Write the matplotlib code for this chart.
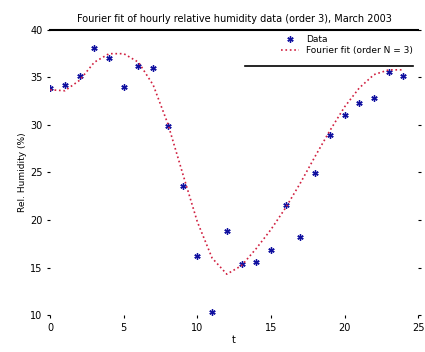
import matplotlib
matplotlib.use("Agg")
import matplotlib.pyplot as plt

hours = list(range(25))
data_vals = [33.9, 34.2, 35.2, 38.1, 37.0, 34.0, 36.2, 36.0, 29.9, 23.6, 16.2, 10.3,
             18.8, 15.4, 15.6, 16.8, 21.6, 18.2, 24.9, 28.9, 31.1, 32.3, 32.8, 35.6, 35.2]
fit_vals = [33.7, 33.6, 34.7, 36.6, 37.5, 37.5, 36.6, 34.2, 30.1, 24.9, 19.8, 16.0,
            14.3, 15.2, 17.0, 19.0, 21.3, 23.9, 26.7, 29.4, 31.9, 33.9, 35.3, 35.8, 35.8]

title = "Fourier fit of hourly relative humidity data (order 3), March 2003"
legend_labels = ["Data", "Fourier fit (order N = 3)"]

fig = plt.figure(figsize=(4.25, 3.52), dpi=100)
ax = fig.add_axes([0.118, 0.105, 0.866, 0.81])
ax.plot(hours, data_vals, linestyle="none", marker=(6, 2, 0), color="#1010a0",
        markersize=4.5, markeredgewidth=1.0, label=legend_labels[0])
ax.plot(hours, fit_vals, linestyle=":", color="#d02040", linewidth=1.2,
        label=legend_labels[1])
ax.set_xlim(0, 25)
ax.set_ylim(10, 40)
ax.set_xticks([0, 5, 10, 15, 20, 25])
ax.set_yticks([10, 15, 20, 25, 30, 35, 40])
ax.tick_params(labelsize=7, length=2, right=True)
for s in ["left", "right", "bottom"]:
    ax.spines[s].set_visible(False)
ax.spines["top"].set_linewidth(1.5)
ax.set_xlabel("t", fontsize=7, labelpad=2)
ax.set_ylabel("Rel. Humidity (%)", fontsize=6.5, labelpad=2)
ax.set_title(title, fontsize=7, pad=6)
leg = ax.legend(loc="upper right", fontsize=6.5, frameon=False, borderaxespad=0.2,
                handlelength=2.0, labelspacing=0.2)
ax.plot([0.53, 0.985], [0.875, 0.875], transform=ax.transAxes, color="black",
        linewidth=1.2, clip_on=False)
fig.savefig("out.png", dpi=100)
